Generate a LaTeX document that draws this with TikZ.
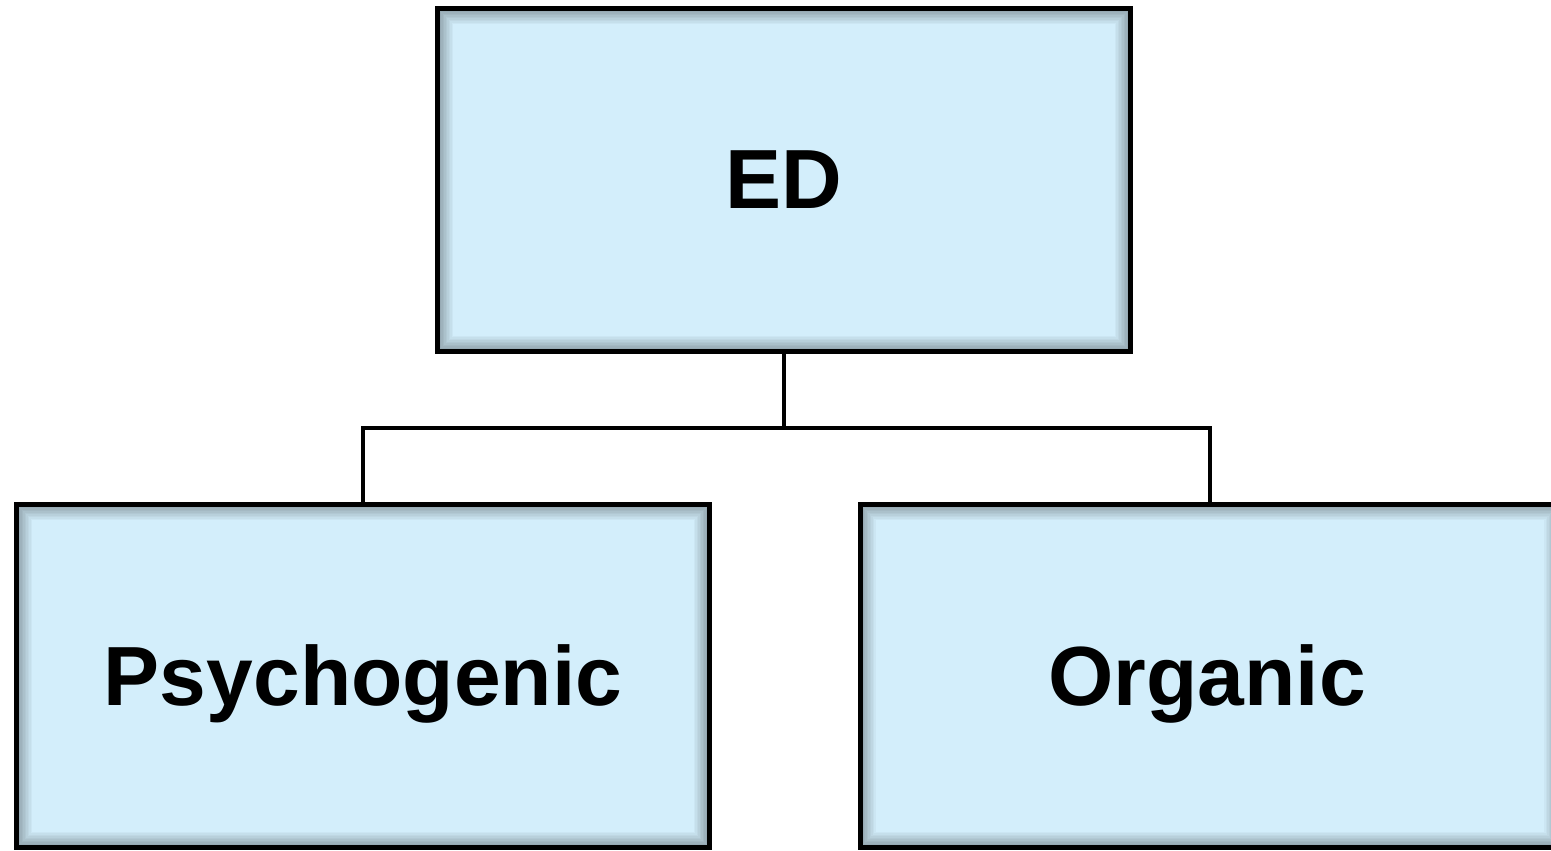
\documentclass[tikz,border=0pt]{standalone}
\usepackage{fontspec}
\setmainfont{Liberation Sans}
\begin{document}
\begin{tikzpicture}[x=1pt,y=-1pt,
  box/.style={draw=black, line width=5pt, fill=boxfill, minimum height=343pt,
    inner sep=0pt, font=\fontsize{84}{100}\selectfont\bfseries,
    path picture={
      \foreach \i in {1,...,10}{
        \draw[line width=1.6pt, draw=black, draw opacity={0.05*(11-\i)/1.6}]
          ([shift={(\i*1.5pt,-\i*1.5pt)}]path picture bounding box.north west) rectangle
          ([shift={(-\i*1.5pt,\i*1.5pt)}]path picture bounding box.south east);
      }
    }},
  conn/.style={draw=black, line width=4.5pt}
]
\definecolor{boxfill}{HTML}{D3EEFB}
\useasboundingbox (0,0) rectangle (1551,851);
\node[box, minimum width=693pt] (ED) at (784,180) {ED};
\node[box, minimum width=693pt] (P) at (363,676) {\raisebox{-29pt}[0pt][0pt]{Psychogenic}};
\node[box, minimum width=700pt] (O) at (1210,676) {\hspace*{-6pt}\raisebox{-29pt}[0pt][0pt]{Organic}};
\coordinate (mid) at (784,428);
\draw[conn] (ED.south) -- (mid);
\draw[conn] (mid) -| (P.north);
\draw[conn] (mid) -| (O.north);
\end{tikzpicture}
\end{document}
